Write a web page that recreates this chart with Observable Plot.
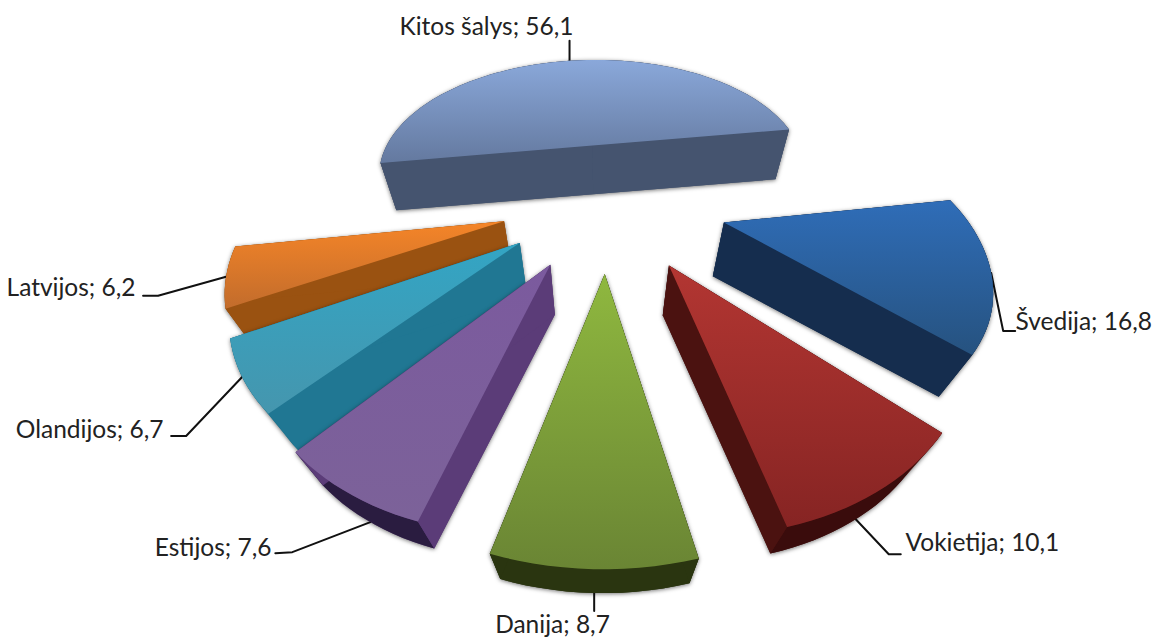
<!DOCTYPE html>
<html><head><meta charset="utf-8">
<script src="https://cdn.jsdelivr.net/npm/d3@7"></script>
<script src="https://cdn.jsdelivr.net/npm/@observablehq/plot@0.6"></script>
<style>html,body{margin:0;padding:0;background:#fff}svg{display:block}</style>
</head><body><div id="chart"></div>
<script>
const countries = ["Kitos šalys","Švedija","Vokietija","Danija","Estijos","Olandijos","Latvijos"];
const values = [56.1,16.8,10.1,8.7,7.6,6.7,6.2];
const valueLabels = ["56,1","16,8","10,1","8,7","7,6","6,7","6,2"];
const explode = [0.44,0.48,0.46,0.45,0.45,0.43,0.43];
const radius = [0.95,0.96,1,1.03,1,1,1];
const wallDepth = [0.072,0.09,0.09,0.095,0.09,0.09,0.09];
const topLight = ["#8aa8da","#2f6db8","#b33632","#8fb83f","#7b5a9e","#33a5c4","#f58528"];
const topDark = ["#64799f","#26527f","#862423","#6a8534","#7c6299","#4596ae","#c26c2c"];
const wallColor = ["#45546f","#152d4e","#4b1210","#2a3510","#5b3c78","#207793","#9a5211"];
const rimColor = ["#45546f","#152d4e","#3a0c0c","#2a3510","#2a1c40","#1f6f88","#9a5211"];
const drawOrder = [0,1,6,5,4,2,3];
const labelAt = [[486,27,"middle"],[1015,322,"start"],[905,543,"start"],[552,625,"middle"],[271,548,"end"],[163,430,"end"],[135,288,"end"]];

const cam = {cx:607, cy:200, d:3.45, f:842, k:0.583, vx:600, vy:820, start:-99};
const project = (X,Y) => {const w = cam.d+Y; return [cam.cx+cam.f*X/w, cam.cy-cam.f*cam.k*Y/w];};
const rad = a => a*Math.PI/180;
const total = d3.sum(values);
let cum = cam.start;
const slices = values.map((v,i) => {
  const a0 = cum, a1 = cum + v/total*360; cum = a1;
  const am = (a0+a1)/2, ox = explode[i]*Math.sin(rad(am)), oy = explode[i]*Math.cos(rad(am));
  const rim = a => project(ox+radius[i]*Math.sin(rad(a)), oy+radius[i]*Math.cos(rad(a)));
  const n = Math.max(4, Math.ceil((a1-a0)/2));
  const arc = d3.range(n+1).map(j => rim(a0+(a1-a0)*j/n));
  const drop = ([x,y]) => [x+(cam.vx-x)*wallDepth[i], y+(cam.vy-y)*wallDepth[i]];
  return {i, a0, a1, am, apex: project(ox,oy), arc, rim, drop};
});
const face = pts => pts.map(([x,y]) => ({x,y}));
const marks = [];
const poly = (pts, fill, opts={}) => marks.push(Plot.line(face(pts), {x:"x", y:"y", curve:"linear-closed", fill, stroke:"none", ...opts}));

// leader lines run under the slices, from the rim to an elbow to the label
const leaderOut = [[0,-20],[12,58],[33,35],[0,18],[-78,30],[-56,59],[-68,19]];
const leaderEnd = [[0,0],[12,0],[12,0],[0,0],[-17,1],[-15,0],[-15,0]];
slices.forEach((s,i) => {
  const a = s.rim(s.am);
  const b = [a[0]+leaderOut[i][0], a[1]+leaderOut[i][1]];
  const base = (i>=2 && i<=4) ? s.drop(a) : a;
  const b2 = [base[0]+leaderOut[i][0], base[1]+leaderOut[i][1]];
  const c = [b2[0]+leaderEnd[i][0], b2[1]+leaderEnd[i][1]];
  marks.push(Plot.line(face([base,b2,c]), {x:"x", y:"y", stroke:"#111", strokeWidth:2}));
});
for (const i of drawOrder) {
  const s = slices[i], drop = s.drop;
  const first = s.arc[0], last = s.arc[s.arc.length-1];
  const all = [s.apex, ...s.arc];
  poly(d3.polygonHull([...all, ...all.map(drop)]), wallColor[i], {imageFilter:"drop-shadow(0 1px 2px rgba(0,0,0,0.55))"});
  poly([...s.arc, ...s.arc.map(drop).reverse()], rimColor[i]);
  poly([s.apex, first, drop(first), drop(s.apex)], wallColor[i]);
  poly([s.apex, last, drop(last), drop(s.apex)], wallColor[i]);
  poly(all, `url(#top${i})`);
}
const labels = slices.map((s,i) => ({x:labelAt[i][0], y:labelAt[i][1], t:`${countries[i]}; ${valueLabels[i]}`, anchor:labelAt[i][2]}));
for (const anchor of ["start","middle","end"]) {
  marks.push(Plot.text(labels.filter(d=>d.anchor===anchor), {x:"x", y:"y", text:"t", textAnchor:anchor, fontSize:24.5, fontFamily:"Lato", fill:"#222"}));
}
const plot = Plot.plot({width:1156, height:637, margin:0, style:{background:"#fff"},
  x:{domain:[0,1156], range:[0,1156], axis:null}, y:{domain:[0,637], range:[0,637], axis:null}, marks});
const defs = d3.select(plot).insert("defs",":first-child");
topLight.forEach((c,i) => {
  const g = defs.append("linearGradient").attr("id",`top${i}`).attr("x1",0).attr("y1",0).attr("x2",0).attr("y2",1);
  g.append("stop").attr("offset",0).attr("stop-color",c);
  g.append("stop").attr("offset",1).attr("stop-color",topDark[i]);
});
document.getElementById("chart").append(plot);
</script></body></html>
